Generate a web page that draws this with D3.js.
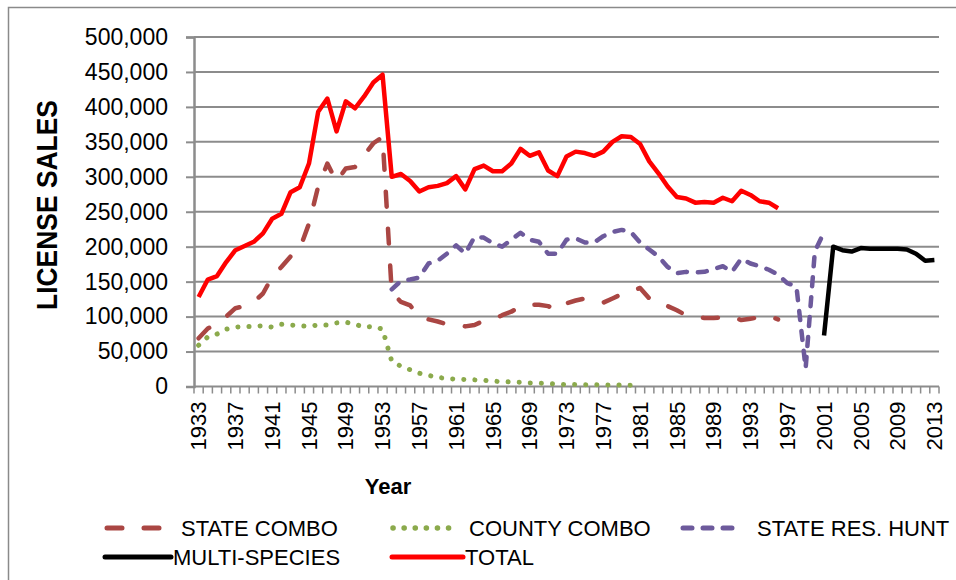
<!DOCTYPE html>
<html><head><meta charset="utf-8">
<script src="https://cdn.jsdelivr.net/npm/d3@7/dist/d3.min.js"></script>
<style>body{margin:0;background:#fff}svg{display:block}text{font-family:"Liberation Sans",Arial,sans-serif;fill:#000}</style>
</head><body><svg id="c" width="956" height="580"></svg>
<script>
const years = [1933,1934,1935,1936,1937,1938,1939,1940,1941,1942,1943,1944,1945,1946,1947,1948,1949,1950,1951,1952,1953,1954,1955,1956,1957,1958,1959,1960,1961,1962,1963,1964,1965,1966,1967,1968,1969,1970,1971,1972,1973,1974,1975,1976,1977,1978,1979,1980,1981,1982,1983,1984,1985,1986,1987,1988,1989,1990,1991,1992,1993,1994,1995,1996,1997,1998,1999,2000,2001,2002,2003,2004,2005,2006,2007,2008,2009,2010,2011,2012,2013];
const xTickLabels = [1933,1937,1941,1945,1949,1953,1957,1961,1965,1969,1973,1977,1981,1985,1989,1993,1997,2001,2005,2009,2013];
const yTicks = [0,50000,100000,150000,200000,250000,300000,350000,400000,450000,500000];

const stateComboStart = 1933;
const stateCombo = [69000,83000,90000,100000,112000,115000,121000,133000,157000,171000,186000,197000,233000,286000,319000,293000,312000,314000,331000,348000,357000,135000,121000,116000,100000,96000,93000,89000,88000,86000,88000,94000,96000,102000,107000,115000,117000,117000,115000,109000,119000,123000,126000,123000,120000,126000,132000,136000,141000,126000,117000,115000,109000,102000,100000,98000,98000,99000,100000,95000,97000,99000,101000,96000];

const countyComboStart = 1933;
const countyCombo = [59000,71000,75000,82000,85000,86000,86000,87000,85000,89000,88000,87000,86000,88000,88000,91000,92000,89000,85000,86000,82000,36000,29000,24000,19000,16000,13000,11500,10500,10000,9500,9000,7600,7000,6500,6000,5000,4800,4300,3300,2900,2800,2500,2400,2300,2000,2000,1900,1500];

const stateResHuntStart = 1954;
const stateResHunt = [139000,151000,153000,156000,176000,180000,190000,202000,190000,214000,213000,205000,200000,210000,220000,210000,207000,190000,190000,210000,212000,206000,206000,215000,221000,224000,221000,206000,196000,186000,171000,162000,164000,163000,164000,168000,172000,164000,183000,176000,172000,167000,160000,148000,143000,26000,193000,221000];

const multiSpeciesStart = 2001;
const multiSpecies = [73000,200000,195000,193000,198000,197000,197000,197000,197000,196000,190000,180000,181000];

const totalStart = 1933;
const total = [128000,153000,158000,178000,195000,201000,207000,219000,240000,247000,278000,285000,319000,393000,412000,365000,408000,398000,415000,435000,446000,300000,304000,294000,279000,285000,287000,291000,301000,282000,311000,316000,308000,308000,319000,340000,330000,335000,309000,301000,329000,336000,334000,330000,336000,350000,358000,357000,347000,322000,305000,286000,271000,269000,263000,264000,263000,270000,265000,280000,274000,265000,263000,255000];

const seriesNames = ["STATE COMBO","COUNTY COMBO","STATE RES. HUNT","MULTI-SPECIES","TOTAL"];

const styles = {
  "STATE COMBO": {color:"#AA4643", width:4.5, dash:"15,22", cap:"round"},
  "COUNTY COMBO": {color:"#8BAA4C", width:5, dash:"0.1,11", cap:"round"},
  "STATE RES. HUNT": {color:"#6D5A9C", width:4.5, dash:"9,11", cap:"round"},
  "MULTI-SPECIES": {color:"#000000", width:4.5, dash:null, cap:"butt"},
  "TOTAL": {color:"#FF0000", width:4.5, dash:null, cap:"butt"}
};

const seriesData = [
  {name:"STATE COMBO", start:stateComboStart, values:stateCombo},
  {name:"COUNTY COMBO", start:countyComboStart, values:countyCombo},
  {name:"STATE RES. HUNT", start:stateResHuntStart, values:stateResHunt},
  {name:"MULTI-SPECIES", start:multiSpeciesStart, values:multiSpecies},
  {name:"TOTAL", start:totalStart, values:total}
];

const svg = d3.select("#c");
const L = 194, R = 939, T = 37, B = 386.5;
const x = d3.scaleBand().domain(years).range([L, R]).padding(0);
const bw = x.bandwidth();
const cx = yr => x(yr) + bw/2;
const y = d3.scaleLinear().domain([0, 500000]).range([B, T]);

// outer border
svg.append("rect").attr("x",8.5).attr("y",7.5).attr("width",970).attr("height",600)
  .attr("fill","none").attr("stroke","#8a8a8a").attr("stroke-width",1.5);

// gridlines
svg.append("g").selectAll("line").data(yTicks.filter(d=>d>0)).join("line")
  .attr("x1",L).attr("x2",R).attr("y1",d=>y(d)).attr("y2",d=>y(d))
  .attr("stroke","#8c8c8c").attr("stroke-width",2);

// y axis
const yAxis = svg.append("g").attr("transform",`translate(${L},0)`)
  .call(d3.axisLeft(y).tickValues(yTicks).tickSize(8).tickPadding(18).tickFormat(d3.format(",")));
yAxis.select(".domain").attr("stroke","#8c8c8c").attr("stroke-width",2.5);
yAxis.selectAll(".tick line").attr("stroke","#8c8c8c").attr("stroke-width",2);
yAxis.selectAll(".tick text").attr("font-size",23).attr("font-family","Liberation Sans, Arial, sans-serif").attr("fill","#000");

// x axis line + boundary ticks
svg.append("line").attr("x1",L).attr("x2",R).attr("y1",B).attr("y2",B)
  .attr("stroke","#8c8c8c").attr("stroke-width",2);
const bounds = years.map(d=>x(d)).concat([x(years[years.length-1])+bw]);
svg.append("g").selectAll("line").data(bounds).join("line")
  .attr("x1",d=>d).attr("x2",d=>d).attr("y1",B).attr("y2",B+7)
  .attr("stroke","#8c8c8c").attr("stroke-width",1.5);

// x labels
const xAxis = svg.append("g").attr("transform",`translate(0,${B})`)
  .call(d3.axisBottom(x).tickValues(xTickLabels).tickSize(0).tickFormat(d3.format("d")));
xAxis.select(".domain").remove();
xAxis.selectAll(".tick text")
  .attr("font-size",22).attr("font-family","Liberation Sans, Arial, sans-serif").attr("fill","#000")
  .attr("text-anchor","end").attr("transform","translate(0,15) rotate(-90)")
  .attr("x",0).attr("y",0).attr("dy","0.35em");

// lines
const lineGen = d3.line().defined(d=>d.v!=null).x(d=>cx(d.yr)).y(d=>y(d.v));
seriesData.forEach(s=>{
  const pts = s.values.map((v,i)=>({yr:s.start+i, v}));
  const st = styles[s.name];
  svg.append("path").datum(pts).attr("d",lineGen)
    .attr("fill","none").attr("stroke",st.color).attr("stroke-width",st.width)
    .attr("stroke-dasharray",st.dash).attr("stroke-linecap",st.cap).attr("stroke-linejoin","round");
});

// axis titles
svg.append("text").attr("transform","translate(57,205) rotate(-90)")
  .attr("text-anchor","middle").attr("font-size",29).attr("font-weight","bold")
  .attr("textLength",210).attr("lengthAdjust","spacingAndGlyphs").text("LICENSE SALES");
svg.append("text").attr("x",388).attr("y",494).attr("text-anchor","middle")
  .attr("font-size",22).attr("font-weight","bold").text("Year");

// legend
const legend = [
  {name:"STATE COMBO", x1:105, x2:165, tx:181, y:528},
  {name:"COUNTY COMBO", x1:391, x2:455, tx:469, y:528},
  {name:"STATE RES. HUNT", x1:681, x2:743, tx:757, y:528},
  {name:"MULTI-SPECIES", x1:105, x2:171, tx:173, y:557},
  {name:"TOTAL", x1:392, x2:463, tx:465, y:557}
];
legend.forEach(l=>{
  const st = styles[l.name];
  svg.append("line").attr("x1",l.x1+(st.cap==="round"?2:0)).attr("x2",l.x2).attr("y1",l.y).attr("y2",l.y)
    .attr("stroke",st.color).attr("stroke-width",st.width+0.5)
    .attr("stroke-dasharray",st.dash).attr("stroke-linecap","round");
  svg.append("text").attr("x",l.tx).attr("y",l.y).attr("dy","0.35em")
    .attr("font-size",22).text(l.name);
});
</script></body></html>
